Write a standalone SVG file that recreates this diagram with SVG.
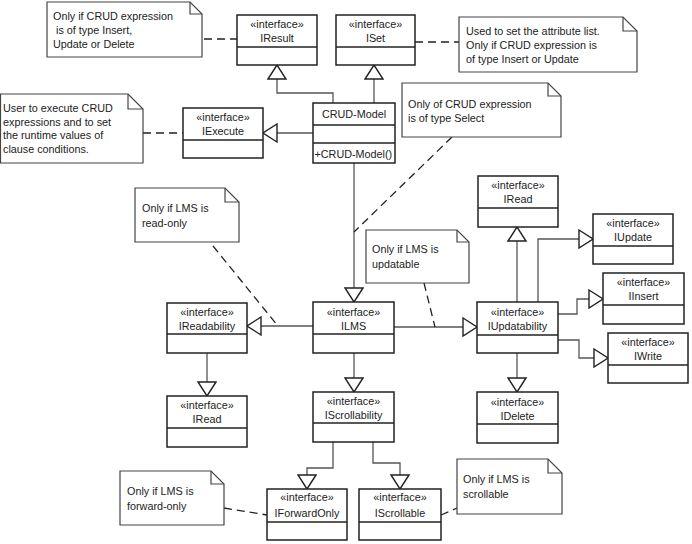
<svg xmlns="http://www.w3.org/2000/svg" width="692" height="544" viewBox="0 0 692 544">
<style>
.box{fill:#fff;stroke:#222;stroke-width:1.5}
.div{stroke:#222;stroke-width:1.5}
.note{fill:#fff;stroke:#444;stroke-width:1.2}
.fold{fill:none;stroke:#444;stroke-width:1.2}
.t{font-family:"Liberation Sans",Arial,sans-serif;font-size:10.8px;fill:#222}
.c{text-anchor:middle}
.con{fill:none;stroke:#555;stroke-width:1.3;marker-end:url(#tri)}
.dash{fill:none;stroke:#222;stroke-width:1.3;stroke-dasharray:8,5}
</style>
<defs>
<marker id="tri" viewBox="-1 -1 16 20" refX="14" refY="9" markerWidth="16" markerHeight="20" markerUnits="userSpaceOnUse" orient="auto">
<path d="M0,0 L14,9 L0,18 Z" fill="#fff" stroke="#222" stroke-width="1.4"/>
</marker>
</defs>
<rect width="692" height="544" fill="#fff"/>

<g id="connectors">
<path class="con" d="M333,103 V93 H277 V65"/>
<path class="con" d="M374,103 V65"/>
<path class="con" d="M313,133 H263"/>
<path class="con" d="M354,163 V302"/>
<path class="con" d="M313,326 H247"/>
<path class="con" d="M394,327 H477"/>
<path class="con" d="M354,353 V392"/>
<path class="con" d="M207,353 V396"/>
<path class="con" d="M517,302 V227"/>
<path class="con" d="M538,302 V239 H593"/>
<path class="con" d="M558,314 H577 V299 H603"/>
<path class="con" d="M558,340 H579 V358 H608"/>
<path class="con" d="M517,353 V392"/>
<path class="con" d="M333,442 V468 H307 V489"/>
<path class="con" d="M373,442 V463 H400 V489"/>
<path class="dash" d="M204,39 H237"/>
<path class="dash" d="M415,42 H459"/>
<path class="dash" d="M143,133 H183"/>
<path class="dash" d="M452,137 L354,232"/>
<path class="dash" d="M213,246 L278,326"/>
<path class="dash" d="M424,283 L435,327"/>
<path class="dash" d="M224,508 L267,515"/>
<path class="dash" d="M441,515 L457,508"/>
</g>

<g id="note1">
<path class="note" d="M47,2 H190 L202,14 V57 H47 Z"/><path class="fold" d="M190,2 V14 H202"/>
<text class="t" x="53" y="20">Only if CRUD expression</text>
<text class="t" x="56" y="34">is of type Insert,</text>
<text class="t" x="53" y="48">Update or Delete</text>
</g>
<g id="note2">
<path class="note" d="M0.5,94 H128 L143,109 V163 H0.5 Z"/><path class="fold" d="M128,94 V109 H143"/>
<text class="t" x="3" y="112">User to execute CRUD</text>
<text class="t" x="3" y="125.5">expressions and to set</text>
<text class="t" x="3" y="139">the runtime values of</text>
<text class="t" x="3" y="152.5">clause conditions.</text>
</g>
<g id="note3">
<path class="note" d="M459,17 H623 L637,31 V72 H459 Z"/><path class="fold" d="M623,17 V31 H637"/>
<text class="t" x="466" y="35">Used to set the attribute list.</text>
<text class="t" x="466" y="49">Only if CRUD expression is</text>
<text class="t" x="466" y="63">of type Insert or Update</text>
</g>
<g id="note4">
<path class="note" d="M402,83 H548 L561,96 V137 H402 Z"/><path class="fold" d="M548,83 V96 H561"/>
<text class="t" x="408" y="108">Only of CRUD expression</text>
<text class="t" x="408" y="122">is of type Select</text>
</g>
<g id="note5">
<path class="note" d="M135,188 H225 L239,202 V242 H135 Z"/><path class="fold" d="M225,188 V202 H239"/>
<text class="t" x="142" y="212">Only if LMS is</text>
<text class="t" x="142" y="227">read-only</text>
</g>
<g id="note6">
<path class="note" d="M366,230 H457 L469,242 V283 H366 Z"/><path class="fold" d="M457,230 V242 H469"/>
<text class="t" x="372" y="253">Only if LMS is</text>
<text class="t" x="372" y="268">updatable</text>
</g>
<g id="note7">
<path class="note" d="M120,471 H211 L224,484 V525 H120 Z"/><path class="fold" d="M211,471 V484 H224"/>
<text class="t" x="127" y="495">Only if LMS is</text>
<text class="t" x="127" y="510">forward-only</text>
</g>
<g id="note8">
<path class="note" d="M457,459 H548 L562,473 V514 H457 Z"/><path class="fold" d="M548,459 V473 H562"/>
<text class="t" x="463" y="483">Only if LMS is</text>
<text class="t" x="463" y="498">scrollable</text>
</g>

<g id="IResult"><rect class="box" x="237" y="15" width="80" height="50"/><line class="div" x1="237" y1="47" x2="317" y2="47"/>
<text class="t c" x="277" y="28">«interface»</text><text class="t c" x="277" y="42">IResult</text></g>
<g id="ISet"><rect class="box" x="336" y="15" width="79" height="50"/><line class="div" x1="336" y1="47" x2="415" y2="47"/>
<text class="t c" x="375.5" y="28">«interface»</text><text class="t c" x="375.5" y="42">ISet</text></g>
<g id="IExecute"><rect class="box" x="183" y="108" width="80" height="50"/><line class="div" x1="183" y1="140" x2="263" y2="140"/>
<text class="t c" x="223" y="121">«interface»</text><text class="t c" x="223" y="135">IExecute</text></g>
<g id="CRUD-Model"><rect class="box" x="313" y="103" width="82" height="60"/><line class="div" x1="313" y1="125" x2="395" y2="125"/><line class="div" x1="313" y1="143" x2="395" y2="143"/>
<text class="t c" x="354" y="118">CRUD-Model</text><text class="t" x="314.5" y="158">+CRUD-Model()</text></g>
<g id="IRead-top"><rect class="box" x="478" y="176" width="80" height="51"/><line class="div" x1="478" y1="208" x2="558" y2="208"/>
<text class="t c" x="518" y="189">«interface»</text><text class="t c" x="518" y="203">IRead</text></g>
<g id="IUpdate"><rect class="box" x="593" y="214" width="80" height="50"/><line class="div" x1="593" y1="246" x2="673" y2="246"/>
<text class="t c" x="633" y="227">«interface»</text><text class="t c" x="633" y="241">IUpdate</text></g>
<g id="IInsert"><rect class="box" x="603" y="273" width="81" height="51"/><line class="div" x1="603" y1="305" x2="684" y2="305"/>
<text class="t c" x="643.5" y="286">«interface»</text><text class="t c" x="643.5" y="300">IInsert</text></g>
<g id="IWrite"><rect class="box" x="608" y="333" width="80" height="50"/><line class="div" x1="608" y1="365" x2="688" y2="365"/>
<text class="t c" x="648" y="346">«interface»</text><text class="t c" x="648" y="360">IWrite</text></g>
<g id="IReadability"><rect class="box" x="167" y="303" width="80" height="50"/><line class="div" x1="167" y1="334" x2="247" y2="334"/>
<text class="t c" x="207" y="316">«interface»</text><text class="t c" x="207" y="330">IReadability</text></g>
<g id="ILMS"><rect class="box" x="313" y="302" width="81" height="51"/><line class="div" x1="313" y1="334" x2="394" y2="334"/>
<text class="t c" x="353.5" y="316">«interface»</text><text class="t c" x="353.5" y="330">ILMS</text></g>
<g id="IUpdatability"><rect class="box" x="477" y="302" width="81" height="51"/><line class="div" x1="477" y1="335" x2="558" y2="335"/>
<text class="t c" x="517.5" y="316">«interface»</text><text class="t c" x="517.5" y="330">IUpdatability</text></g>
<g id="IRead-bottom"><rect class="box" x="167" y="396" width="80" height="51"/><line class="div" x1="167" y1="428" x2="247" y2="428"/>
<text class="t c" x="207" y="409">«interface»</text><text class="t c" x="207" y="423">IRead</text></g>
<g id="IScrollability"><rect class="box" x="313" y="392" width="81" height="50"/><line class="div" x1="313" y1="423" x2="394" y2="423"/>
<text class="t c" x="353.5" y="405">«interface»</text><text class="t c" x="353.5" y="419">IScrollability</text></g>
<g id="IDelete"><rect class="box" x="477" y="392" width="81" height="51"/><line class="div" x1="477" y1="424" x2="558" y2="424"/>
<text class="t c" x="517.5" y="406">«interface»</text><text class="t c" x="517.5" y="420">IDelete</text></g>
<g id="IForwardOnly"><rect class="box" x="267" y="489" width="80" height="51"/><line class="div" x1="267" y1="522" x2="347" y2="522"/>
<text class="t c" x="307" y="501">«interface»</text><text class="t c" x="307" y="517">IForwardOnly</text></g>
<g id="IScrollable"><rect class="box" x="359" y="489" width="82" height="51"/><line class="div" x1="359" y1="522" x2="441" y2="522"/>
<text class="t c" x="400" y="501">«interface»</text><text class="t c" x="400" y="517">IScrollable</text></g>
</svg>
